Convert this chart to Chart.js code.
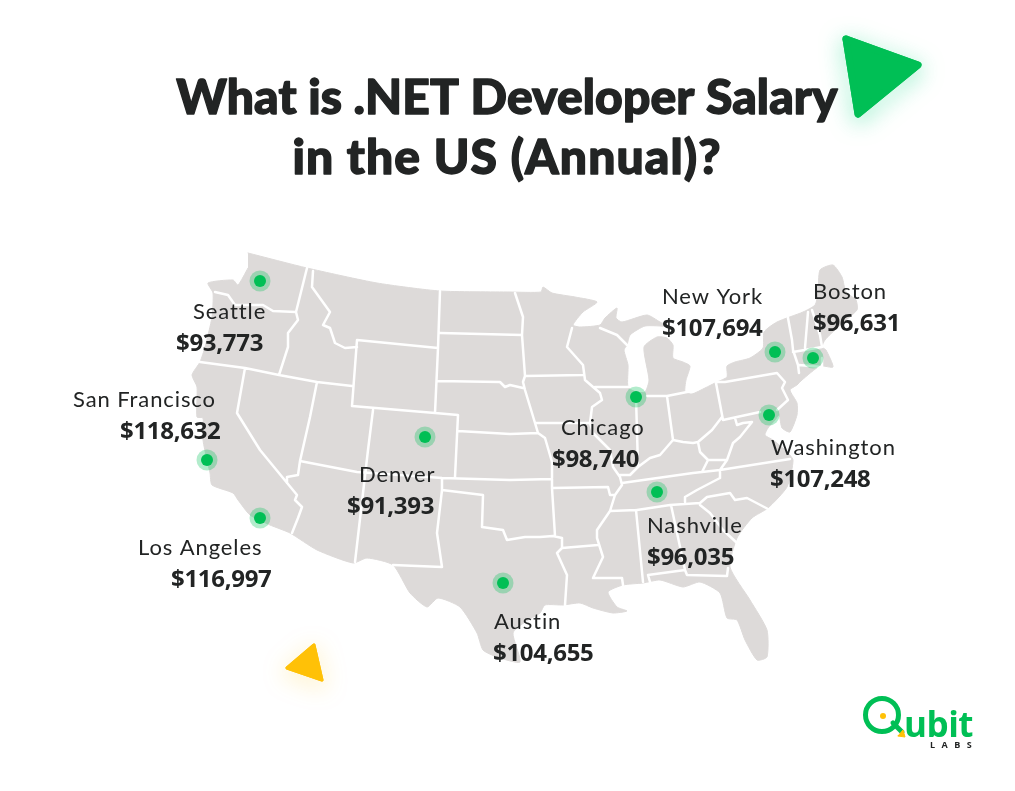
<!DOCTYPE html>
<html>
<head>
<meta charset="utf-8">
<title>.NET Developer Salary</title>
<script src="https://cdn.jsdelivr.net/npm/chart.js@4"></script>
<style>
  html, body { margin: 0; padding: 0; background: #fff; }
  canvas { display: block; }
</style>
</head>
<body>
<canvas id="chart" width="1015" height="791"></canvas>
<script>
const titleLines = ['What is .NET Developer Salary', 'in the US (Annual)?'];
const cities = ['Seattle', 'San Francisco', 'Los Angeles', 'Denver', 'Austin', 'Chicago', 'Nashville', 'Washington', 'New York', 'Boston'];
const salaries = [93773, 118632, 116997, 91393, 104655, 98740, 96035, 107248, 107694, 96631];
const cityX = [260, 207, 260, 425, 503, 636, 657, 769, 775, 813];
const cityY = [281, 460, 518, 437, 583, 397, 492, 415, 352, 358];
const nameX = [193, 73, 138, 359, 494, 561, 647, 771, 662, 813];
const nameY = [319, 407, 555, 482, 629, 435, 533, 455, 304, 299];
const valueX = [176, 120, 171, 347, 493, 552, 647, 770, 662, 813];
const valueY = [351, 439, 587, 514, 661, 467, 565, 487, 336, 331];

// US silhouette, clockwise from the north west corner
const usOutline = [
  [248,253],[307,268],[377,283],[440,291],[510,292],[541,292],[543,287],[552,293],[575,297],[597,302],[583,312],[573,325],
  [580,327],[600,325],[605,318],[617,308],[616,318],[622,322],[647,315],[660,322],[667,326],[645,326],[630,335],[627,345],
  [624,350],[628,365],[628,387],[636,392],[645,392],[649,380],[644,347],[657,337],[667,338],[673,345],[673,358],[683,362],
  [690,366],[686,380],[685,392],[692,394],[705,388],[717,382],[727,377],[727,366],[735,362],[750,358],[763,348],[764,332],
  [777,322],[803,312],[815,305],[818,293],[820,270],[833,265],[842,277],[846,292],[856,300],[857,310],[840,325],[825,340],
  [822,347],[826,350],[833,367],[820,366],[802,380],[797,385],[790,390],[797,403],[797,415],[790,432],[782,428],[779,415],
  [775,420],[768,428],[765,435],[773,440],[785,450],[793,460],[787,487],[768,508],[752,518],[737,538],[730,567],[750,600],
  [767,630],[767,657],[757,660],[745,640],[737,620],[727,618],[720,593],[700,582],[683,587],[660,580],[643,583],[623,585],
  [608,592],[617,607],[627,611],[613,613],[593,608],[580,603],[563,605],[545,605],[540,613],[525,622],[513,633],[520,662],
  [497,657],[483,650],[477,633],[460,607],[438,598],[427,607],[410,593],[393,565],[367,558],[353,563],[317,550],[290,533],
  [270,525],[250,515],[238,500],[233,493],[212,485],[210,473],[207,460],[203,440],[203,418],[197,417],[197,387],[192,375],
  [200,362],[205,347],[212,317],[213,293],[208,283],[233,280],[238,285],[248,268]
];

const stateBorders = [
  [[307,268],[296,312],[298,320],[288,333],[288,347],[279,375]],
  [[215,292],[228,295],[235,305],[263,305],[273,311],[296,312]],
  [[200,362],[245,368],[279,375],[317,382],[352,386]],
  [[245,368],[237,413],[260,450],[297,495],[295,500],[302,507],[298,518],[292,533]],
  [[317,382],[310,417],[300,461],[298,475],[287,477],[287,483]],
  [[313,271],[312,287],[330,312],[323,325],[330,328],[335,343],[345,348],[357,347]],
  [[357,340],[438,348],[435,413],[352,406],[357,340]],
  [[440,291],[438,348]],
  [[440,333],[522,335]],
  [[437,381],[500,382],[505,387],[510,385],[523,388]],
  [[373,410],[368,450],[355,562]],
  [[435,413],[458,415],[455,477]],
  [[458,431],[510,434],[538,433]],
  [[300,461],[357,472],[442,478],[510,480],[552,479]],
  [[442,478],[442,490],[483,495],[482,527],[503,530],[507,540],[525,537],[540,537],[553,536],[562,538]],
  [[442,490],[437,533],[442,567],[393,565]],
  [[552,488],[555,536]],
  [[552,479],[552,488],[608,487],[610,495],[615,495]],
  [[552,478],[552,462],[545,438],[538,433],[532,413],[525,390],[523,382],[525,376]],
  [[515,293],[523,317],[522,335],[525,376],[583,375]],
  [[572,328],[567,347],[583,365],[585,380],[600,393],[602,400],[592,407],[590,423],[593,433],[610,450],[613,467],[620,477],[622,485],[615,495],[610,511],[597,530],[597,538],[603,557],[593,578],[622,578],[623,585]],
  [[535,423],[590,423]],
  [[595,387],[628,387]],
  [[636,397],[638,467],[630,475],[620,475]],
  [[647,396],[667,396],[687,392]],
  [[667,396],[673,440]],
  [[638,467],[650,458],[660,455],[673,440],[683,442],[693,443],[698,442],[700,452],[708,460],[702,472]],
  [[698,442],[712,430],[722,417]],
  [[716,383],[723,420],[760,412]],
  [[735,418],[737,425],[743,423],[752,422],[740,437],[733,443],[727,460],[708,460]],
  [[622,483],[693,473],[720,470],[790,459]],
  [[720,470],[727,460]],
  [[720,472],[720,478],[697,490],[685,497],[685,502]],
  [[610,511],[637,510],[670,505],[700,503]],
  [[562,538],[562,548],[557,553],[567,575],[565,605]],
  [[562,548],[598,545]],
  [[636,510],[643,582]],
  [[650,582],[648,575],[685,570],[687,575],[727,576],[728,568]],
  [[671,505],[685,570]],
  [[700,503],[707,497],[730,493],[735,500],[747,498],[768,509]],
  [[700,505],[710,513],[723,530],[737,543]],
  [[600,328],[617,335],[627,345]],
  [[717,382],[725,382],[777,373],[785,382],[782,388],[788,400],[777,410]],
  [[788,318],[792,340],[793,350],[798,365],[799,373]],
  [[808,312],[805,348]],
  [[793,352],[822,347]],
  [[799,365],[822,367]],
  [[822,358],[822,367]],
  [[812,310],[820,335],[822,347]]
];

const greenTriangle = [[846,39],[918,65],[858,114],[846,39]];
const yellowTriangle = [[314,645],[287,668],[322,680],[314,645]];
const logoRing = [[882,715]];
const logoDot = [[883,716]];
const logoTail = [[893,723],[902,732]];
const logoMark = [[898,736],[903,730],[905,737],[898,736]];

const toPoints = list => list.map(p => ({ x: p[0], y: p[1] }));
// one dataset for all borders, null points break the line between them
const borderPoints = stateBorders.flatMap(b => toPoints(b).concat({ x: null, y: null }));
const cityPoints = cityX.map((x, i) => ({ x: x, y: cityY[i] }));

const GREEN = '#00BF55';
const YELLOW = '#FFC107';
const INK = '#222424';

function line(points, color, width, extra) {
  return Object.assign({
    data: points, showLine: true, pointRadius: 0, borderColor: color, borderWidth: width,
    backgroundColor: color, borderJoinStyle: 'round', borderCapStyle: 'round', fill: false
  }, extra);
}

const glowPlugin = {
  id: 'glow',
  beforeDatasetDraw(chart, args) {
    const g = chart.data.datasets[args.index].glow;
    if (!g) return;
    chart.ctx.save();
    chart.ctx.shadowColor = g;
    chart.ctx.shadowBlur = 22;
    chart.ctx.shadowOffsetY = 5;
  },
  afterDatasetDraw(chart, args) {
    if (chart.data.datasets[args.index].glow) chart.ctx.restore();
  }
};

const textPlugin = {
  id: 'texts',
  afterDatasetsDraw(chart) {
    const ctx = chart.ctx;
    const sx = chart.scales.x, sy = chart.scales.y;
    const put = (s, x, y, font, color, spacing) => {
      ctx.font = font;
      ctx.fillStyle = color;
      ctx.letterSpacing = spacing || '0px';
      ctx.fillText(s, sx.getPixelForValue(x), sy.getPixelForValue(y));
    };
    ctx.save();
    ctx.textBaseline = 'alphabetic';
    ctx.textAlign = 'center';
    // Lato has no weight as heavy as the original, thicken it with a stroke
    ctx.strokeStyle = INK;
    ctx.lineWidth = 1.4;
    ctx.lineJoin = 'round';
    titleLines.forEach((s, i) => {
      const y = i === 0 ? 114 : 174;
      put(s, 507, y, '900 48px Lato', INK, i === 0 ? '0.1px' : '1.1px');
      ctx.strokeText(s, sx.getPixelForValue(507), sy.getPixelForValue(y));
    });
    ctx.textAlign = 'left';
    cities.forEach((c, i) => {
      put(c, nameX[i], nameY[i], '400 22px Lato', INK, '0.9px');
      put('$' + salaries[i].toLocaleString('en-US'), valueX[i], valueY[i], '700 24px "Open Sans"', INK, '-0.3px');
    });
    put('ubit', 904, 737, '700 35px "Open Sans"', GREEN, '-0.5px');
    put('LABS', 930, 748, '700 9px "Open Sans"', INK, '6.5px');
    ctx.restore();
  }
};

new Chart(document.getElementById('chart'), {
  type: 'scatter',
  data: {
    datasets: [
      // first dataset ends up on top
      { data: cityPoints, pointRadius: 6, backgroundColor: GREEN, borderWidth: 0 },
      { data: cityPoints, pointRadius: 10.5, backgroundColor: 'rgba(0,191,85,0.3)', borderWidth: 0 },
      line(toPoints(logoMark), YELLOW, 1, { fill: 'shape' }),
      line(toPoints(logoTail), GREEN, 5),
      { data: toPoints(logoDot), pointRadius: 3, backgroundColor: YELLOW, borderWidth: 0 },
      { data: toPoints(logoRing), pointRadius: 16.5, backgroundColor: 'rgba(0,0,0,0)', borderColor: GREEN, borderWidth: 5 },
      line(toPoints(greenTriangle), GREEN, 7, { fill: 'shape' }),
      line(toPoints(greenTriangle), GREEN, 7, { glow: 'rgba(30,220,140,0.6)' }),
      line(toPoints(yellowTriangle), YELLOW, 3, { fill: 'shape' }),
      line(toPoints(yellowTriangle), YELLOW, 3, { glow: 'rgba(255,193,7,0.6)' }),
      line(borderPoints, '#ffffff', 2.5, { spanGaps: false }),
      line(toPoints(usOutline), '#DDDAD9', 1, { fill: 'shape', tension: 0.2 })
    ]
  },
  options: {
    responsive: false,
    animation: false,
    events: [],
    layout: { padding: 0, autoPadding: false },
    plugins: { legend: { display: false }, tooltip: { enabled: false }, title: { display: false } },
    scales: {
      x: { type: 'linear', min: 0, max: 1015, display: false },
      y: { type: 'linear', min: 0, max: 791, reverse: true, display: false }
    }
  },
  plugins: [glowPlugin, textPlugin]
});
</script>
</body>
</html>
